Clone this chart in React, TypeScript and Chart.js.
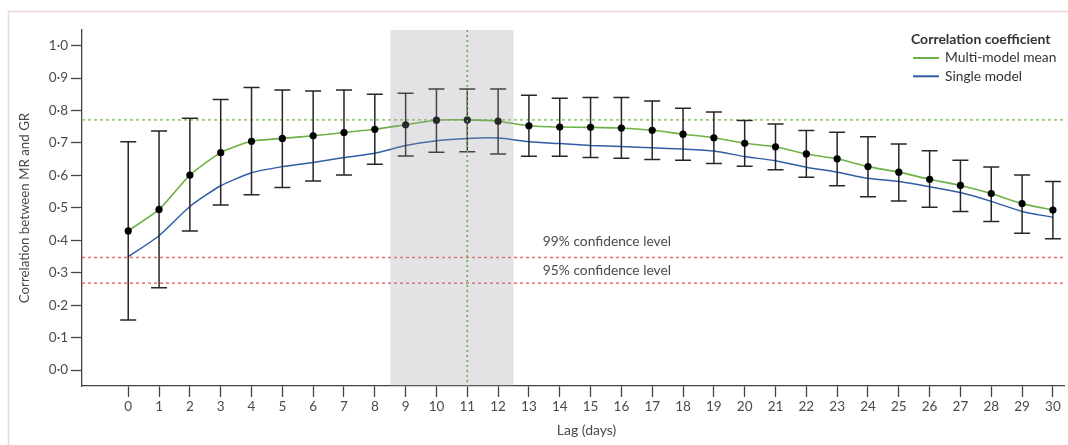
import React, { useEffect, useRef } from "react";
import { Chart, registerables } from "chart.js";

Chart.register(...registerables);

// ---- data ----
const lags = [0, 1, 2, 3, 4, 5, 6, 7, 8, 9, 10, 11, 12, 13, 14, 15, 16, 17, 18, 19, 20, 21, 22, 23, 24, 25, 26, 27, 28, 29, 30];
const multiModelMean = [0.429, 0.495, 0.601, 0.670, 0.705, 0.714, 0.722, 0.732, 0.742, 0.756, 0.770, 0.771, 0.767, 0.753, 0.749, 0.748, 0.746, 0.739, 0.727, 0.716, 0.699, 0.688, 0.666, 0.651, 0.627, 0.610, 0.588, 0.569, 0.544, 0.513, 0.493];
const singleModel = [0.349, 0.414, 0.504, 0.568, 0.608, 0.627, 0.640, 0.655, 0.668, 0.692, 0.707, 0.714, 0.715, 0.704, 0.698, 0.692, 0.689, 0.685, 0.681, 0.675, 0.658, 0.645, 0.625, 0.610, 0.591, 0.581, 0.565, 0.547, 0.520, 0.489, 0.471];
const errorHigh = [0.704, 0.737, 0.776, 0.834, 0.871, 0.863, 0.860, 0.863, 0.850, 0.853, 0.866, 0.866, 0.866, 0.847, 0.838, 0.840, 0.840, 0.829, 0.807, 0.795, 0.769, 0.758, 0.738, 0.733, 0.719, 0.697, 0.676, 0.647, 0.626, 0.601, 0.581];
const errorLow = [0.154, 0.254, 0.429, 0.509, 0.540, 0.563, 0.583, 0.601, 0.634, 0.660, 0.671, 0.673, 0.666, 0.659, 0.659, 0.655, 0.653, 0.649, 0.647, 0.637, 0.628, 0.617, 0.594, 0.568, 0.534, 0.521, 0.502, 0.489, 0.458, 0.422, 0.405];
const yTicks = [0, 0.1, 0.2, 0.3, 0.4, 0.5, 0.6, 0.7, 0.8, 0.9, 1.0];
const peakCorrelation = 0.771;
const peakLag = 11;
const shadedLags = [8.5, 12.5];
const confidenceValues = [0.347, 0.268];
const confidenceLabels = ["99% confidence level", "95% confidence level"];
const legendTitle = "Correlation coefficient";
const seriesNames = ["Multi-model mean", "Single model"];
const xTitle = "Lag (days)";
const yTitle = "Correlation between MR and GR";

const FONT = "Lato, 'Open Sans', sans-serif";
const GREEN = "#6cb244";
const BLUE = "#2f5ea6";
const TEXT = "#4a4a4a";
const AXIS = "#444";

const decorPlugin = {
  id: "decor",
  beforeDraw(chart: any) {
    const ctx = chart.ctx;
    ctx.save();
    ctx.strokeStyle = "#edd5dc";
    ctx.lineWidth = 1.5;
    ctx.beginPath();
    ctx.moveTo(8.5, chart.height);
    ctx.lineTo(8.5, 11.5);
    ctx.lineTo(chart.width, 11.5);
    ctx.stroke();
    ctx.restore();
  },
  beforeDatasetsDraw(chart: any) {
    const { ctx, chartArea, scales } = chart;
    const { left, right } = chartArea;
    const y = scales.y;
    ctx.save();
    ctx.lineWidth = 1.5;
    ctx.setLineDash([3, 3]);
    ctx.strokeStyle = "#8cc66a";
    const py = y.getPixelForValue(peakCorrelation);
    ctx.beginPath();
    ctx.moveTo(left, py);
    ctx.lineTo(right, py);
    ctx.stroke();
    ctx.strokeStyle = "#ec6a6a";
    confidenceValues.forEach((v) => {
      const p = y.getPixelForValue(v);
      ctx.beginPath();
      ctx.moveTo(left, p);
      ctx.lineTo(right, p);
      ctx.stroke();
    });
    ctx.restore();
  },
  beforeDatasetDraw(chart: any, args: any) {
    if (args.index !== 2) return;
    const { ctx, scales } = chart;
    const x = scales.x;
    const y = scales.y;
    ctx.save();
    ctx.strokeStyle = "#262626";
    ctx.lineWidth = 1.5;
    lags.forEach((lag, i) => {
      const px = x.getPixelForValue(lag);
      const top = y.getPixelForValue(errorHigh[i]);
      const bot = y.getPixelForValue(errorLow[i]);
      ctx.beginPath();
      ctx.moveTo(px, top);
      ctx.lineTo(px, bot);
      ctx.moveTo(px - 8, top);
      ctx.lineTo(px + 8, top);
      ctx.moveTo(px - 8, bot);
      ctx.lineTo(px + 8, bot);
      ctx.stroke();
    });
    ctx.restore();
  },
  afterDatasetsDraw(chart: any) {
    const { ctx, chartArea, scales } = chart;
    const { top, bottom, right } = chartArea;
    const x = scales.x;
    const y = scales.y;
    ctx.save();
    // shaded window
    const sx0 = x.getPixelForValue(shadedLags[0]);
    const sx1 = x.getPixelForValue(shadedLags[1]);
    ctx.fillStyle = "rgba(150,153,160,0.27)";
    ctx.fillRect(sx0, top, sx1 - sx0, bottom - top);
    // vertical dotted line at peak lag
    const vx = x.getPixelForValue(peakLag);
    ctx.strokeStyle = "#6aa84a";
    ctx.lineWidth = 1.5;
    ctx.setLineDash([2, 3]);
    ctx.beginPath();
    ctx.moveTo(vx, top);
    ctx.lineTo(vx, bottom);
    ctx.stroke();
    ctx.setLineDash([]);

    // confidence labels
    ctx.fillStyle = TEXT;
    ctx.font = `13.8px ${FONT}`;
    ctx.textAlign = "left";
    ctx.textBaseline = "middle";
    const lx = x.getPixelForValue(13.45);
    ctx.fillText(confidenceLabels[0], lx, y.getPixelForValue(confidenceValues[0]) - 15.5);
    ctx.fillText(confidenceLabels[1], lx, y.getPixelForValue(confidenceValues[1]) - 12.5);

    // x title
    ctx.textAlign = "center";
    ctx.font = `14px ${FONT}`;
    ctx.fillText(xTitle, (x.getPixelForValue(0) + x.getPixelForValue(30)) / 2 - 4, 430);

    // legend
    const legX = right - 153;
    ctx.textAlign = "left";
    ctx.fillStyle = "#333";
    ctx.font = `bold 14px ${FONT}`;
    ctx.fillText(legendTitle, legX, 39.5);
    ctx.font = `13.8px ${FONT}`;
    const colors = [GREEN, BLUE];
    seriesNames.forEach((name, i) => {
      const ly = 58 + i * 18.3;
      ctx.strokeStyle = colors[i];
      ctx.lineWidth = 2;
      ctx.beginPath();
      ctx.moveTo(legX + 2, ly);
      ctx.lineTo(legX + 28, ly);
      ctx.stroke();
      ctx.fillStyle = "#333";
      ctx.fillText(name, legX + 34, ly);
    });
    ctx.restore();
  },
};

export default function App() {
  const canvasRef = useRef<HTMLCanvasElement | null>(null);

  useEffect(() => {
    const canvas = canvasRef.current;
    if (!canvas) return;
    const toPoints = (arr: number[]) => lags.map((l, i) => ({ x: l, y: arr[i] }));
    const chart = new Chart(canvas, {
      type: "line",
      data: {
        datasets: [
          {
            label: seriesNames[1],
            data: toPoints(singleModel),
            borderColor: BLUE,
            borderWidth: 1.5,
            pointRadius: 0,
            tension: 0.2,
            fill: false,
            order: 3,
          },
          {
            label: seriesNames[0],
            data: toPoints(multiModelMean),
            borderColor: GREEN,
            borderWidth: 1.6,
            pointRadius: 0,
            tension: 0.2,
            fill: false,
            order: 2,
          },
          {
            label: "points",
            data: toPoints(multiModelMean),
            showLine: false,
            pointRadius: 3.6,
            pointBackgroundColor: "#000",
            pointBorderColor: "#000",
            pointBorderWidth: 0,
            order: 1,
          },
        ],
      },
      options: {
        responsive: false,
        animation: false,
        devicePixelRatio: 1,
        layout: { padding: { left: 0, top: 30, right: 2, bottom: 0 } },
        plugins: {
          legend: { display: false },
          title: { display: false },
          tooltip: { enabled: false },
        },
        scales: {
          x: {
            type: "linear",
            min: -1.5,
            max: 30.36,
            afterBuildTicks: (s: any) => {
              s.ticks = lags.map((v) => ({ value: v }));
            },
            afterFit: (s: any) => {
              s.height = 59;
            },
            grid: {
              drawOnChartArea: false,
              drawTicks: true,
              tickLength: 11,
              tickColor: AXIS,
              tickWidth: 1.3,
            },
            border: { display: true, color: AXIS, width: 1.3 },
            ticks: {
              color: TEXT,
              font: { family: FONT, size: 13.5 },
              padding: 2,
              autoSkip: false,
              maxRotation: 0,
              callback: (v: any) => String(v),
            },
          },
          y: {
            type: "linear",
            min: -0.049,
            max: 1.048,
            afterBuildTicks: (s: any) => {
              s.ticks = yTicks.map((v) => ({ value: v }));
            },
            afterFit: (s: any) => {
              s.width = 82;
            },
            grid: {
              drawOnChartArea: false,
              drawTicks: true,
              tickLength: 11,
              tickColor: AXIS,
              tickWidth: 1.3,
            },
            border: { display: true, color: AXIS, width: 1.3 },
            ticks: {
              color: TEXT,
              font: { family: FONT, size: 13.5 },
              padding: 3,
              callback: (v: any) => Number(v).toFixed(1).replace(".", "\u00b7"),
            },
            title: {
              display: true,
              text: yTitle,
              color: TEXT,
              font: { family: FONT, size: 13.3 },
              padding: { top: 17, bottom: 0 },
            },
          },
        },
      },
      plugins: [decorPlugin],
    });
    return () => chart.destroy();
  }, []);

  return (
    <div style={{ position: "absolute", left: 0, top: 0, width: 1068, height: 445, background: "#fff" }}>
      <canvas ref={canvasRef} width={1068} height={445} />
    </div>
  );
}
